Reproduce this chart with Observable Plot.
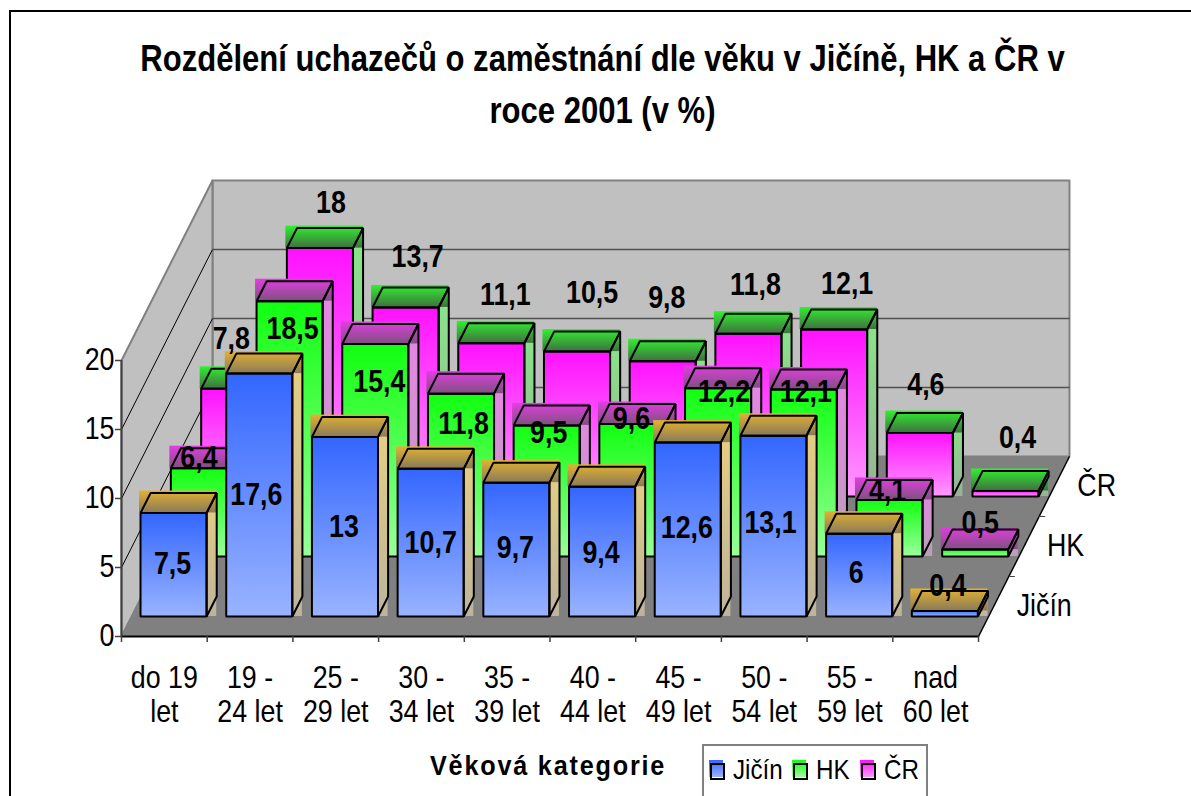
<!DOCTYPE html>
<html><head><meta charset="utf-8">
<script src="https://cdn.jsdelivr.net/npm/d3@7"></script>
<script src="https://cdn.jsdelivr.net/npm/@observablehq/plot@0.6"></script>
<style>
html,body{margin:0;padding:0;background:#fff;width:1191px;height:796px;overflow:hidden;font-family:"Liberation Sans",Arial,sans-serif;color:#000}
#frame{position:absolute;left:9px;top:10px;width:1182px;height:786px;border-left:2px solid #000;border-top:2px solid #000;box-sizing:border-box;pointer-events:none}
#title{position:relative;height:170px;width:1205px;box-sizing:border-box;padding-top:33px;margin:0;text-align:center;font-size:36px;font-weight:bold;line-height:52px;transform:scaleX(.862);transform-origin:602.5px 0;white-space:nowrap}
#chart{display:block;height:560px}
#chart svg{display:block;overflow:visible}
#bottom{position:relative;height:66px}
#xname{position:absolute;left:430px;top:21px;font-size:28px;font-weight:bold;letter-spacing:2px;line-height:30px;white-space:nowrap;transform:scaleX(.9);transform-origin:0 0}
#legend{position:absolute;left:702px;top:14px;width:226px;height:60px;box-sizing:border-box;border:2px solid #808080}
#legend span{position:absolute;top:9px;font-size:28px;line-height:30px;transform:scaleX(.865);transform-origin:0 0}
#legend i{position:absolute;top:14px;width:14px;height:17px}
#legend i::after{content:"";position:absolute;left:1px;top:3px;width:11px;height:13px;border:2px solid #000}
</style></head><body>
<div id="frame"></div>
<h1 id="title">Rozdělení uchazečů o zaměstnání dle věku v Jičíně, HK a ČR v<br>roce 2001 (v %)</h1>
<div id="chart"></div>
<div id="bottom">
  <div id="xname">Věková kategorie</div>
  <div id="legend"></div>
</div>
<script>
// --- data ---
const categories = ["do 19\nlet","19 -\n24 let","25 -\n29 let","30 -\n34 let","35 -\n39 let","40 -\n44 let","45 -\n49 let","50 -\n54 let","55 -\n59 let","nad\n60 let"];
const seriesNames = ["Jičín","HK","ČR"];
const jicin = [7.5,17.6,13,10.7,9.7,9.4,12.6,13.1,6,0.4];
const hk    = [6.4,18.5,15.4,11.8,9.5,9.6,12.2,12.1,4.1,0.5];
const cr    = [7.8,18,13.7,11.1,10.5,9.8,11.8,12.1,4.6,0.4];
const valueTicks = [0,5,10,15,20];

// manual placement of the data labels, as moved by hand in the original (px from each bar's anchor)
const shiftX = [[-1,-3,-1,0,-1,-1,-1,-3,-3,3],[-5,3,4,2.5,2,-1,6,2,-2,5],[-3,11,12,14,15,4,7,13,6,12]];
const shiftY = [[-1,0,0,0,-1,1,-1,-3,-2,-28],[-10,28,38.5,30,8,-4.5,4,3,-9,-27],[-50,-45,-50,-48,-59,-63,-49,-45,-47.5,-53]];

// --- oblique projection in data units ---
const pxPerCat = 85.7, pxPerVal = 13.8;
const kx = 30.33/pxPerCat, ky = 60/pxPerVal;
const PX = (c,z)=>c+z*kx, PY=(v,z)=>v+z*ky;
const DEPTH = 3;
const GL=.104, GR=.875, Z0=1/3, Z1=2/3;

const styles = [
 {id:"j",front:["#3366ff","#99b3ff"],side:["#e8cf80","#bdb49c"],top:["#e2b232","#8a7a58"]},
 {id:"h",front:["#11ff11","#99ff99"],side:["#e884e8","#b8a0b8"],top:["#e23ee2","#805080"]},
 {id:"c",front:["#ff11ff","#ff99ff"],side:["#88e888","#98b098"],top:["#30f030","#407040"]}
];
const values=[jicin,hk,cr];

function defs(){
  const d=d3.create("svg:defs");
  for(const s of styles) for(const k of ["front","side","top"]){
    const g=d.append("linearGradient").attr("id",s.id+k).attr("x1",0).attr("x2",0).attr("y1",0).attr("y2",1);
    g.append("stop").attr("offset",0).attr("stop-color",s[k][0]);
    g.append("stop").attr("offset",1).attr("stop-color",s[k][1]);
  }
  return d.node();
}

function bars(s){
  return values[s].map((v,i)=>({i,v,s,
    a:i+GL,b:i+GR,z0:s+Z0,z1:s+Z1}));
}
function poly(pts){return pts.map(([c,v,z],k)=>({x:PX(c,z),y:PY(v,z)}));}
const wall = (pts,opts)=>Plot.line(poly(pts),{x:"x",y:"y",curve:"linear-closed",...opts});

const marks=[defs];
marks.push(wall([[0,0,DEPTH],[10,0,DEPTH],[10,20,DEPTH],[0,20,DEPTH]],{fill:"#c0c0c0",stroke:"#808080",strokeWidth:2}));
marks.push(wall([[0,0,0],[0,20,0],[0,20,DEPTH],[0,0,DEPTH]],{fill:"#c0c0c0",stroke:"#808080",strokeWidth:2}));
marks.push(wall([[0,0,0],[10,0,0],[10,0,DEPTH],[0,0,DEPTH]],{fill:"#808080"}));
const gridV=valueTicks.slice(1,-1);
marks.push(Plot.link(gridV,{x1:()=>PX(0,0),y1:v=>PY(v,0),x2:()=>PX(0,DEPTH),y2:v=>PY(v,DEPTH),stroke:"#000",strokeWidth:1}));
marks.push(Plot.link(gridV,{x1:()=>PX(0,DEPTH),y1:v=>PY(v,DEPTH),x2:()=>PX(10,DEPTH),y2:v=>PY(v,DEPTH),stroke:"#505050",strokeWidth:1.5}));
// floor front-right edge and depth ticks
marks.push(Plot.link([0],{x1:()=>PX(10,0),y1:()=>PY(0,0),x2:()=>PX(10,DEPTH),y2:()=>PY(0,DEPTH),stroke:"#000",strokeWidth:1.5}));
marks.push(Plot.link([1,2],{x1:z=>PX(10,z),y1:z=>PY(0,z),x2:z=>PX(10,z)+.07,y2:z=>PY(0,z),stroke:"#404040",strokeWidth:1}));
marks.push(Plot.axisY(valueTicks,{anchor:"left",label:null,tickSize:6,tickPadding:1,fontSize:31,stroke:"#404040",strokeWidth:1.5}));
marks.push(Plot.ruleY([0],{stroke:"#000",strokeWidth:2}));
marks.push(Plot.ruleX([0],{y1:0,y2:20,stroke:"#404040",strokeWidth:2}));
marks.push(Plot.axisX(d3.range(0,11),{anchor:"bottom",label:null,tickSize:6,tickFormat:()=>"",stroke:"#404040",strokeWidth:1.5}));

for(let s=2;s>=0;s--){
  const d=bars(s), st=styles[s];
  // gradient boxes (bounding boxes of the faces, as the original rendered them)
  marks.push(Plot.rect(d,{x1:r=>PX(r.b,r.z0),x2:r=>PX(r.b,r.z1),y1:r=>PY(0,r.z0),y2:r=>PY(r.v,r.z1),fill:`url(#${st.id}side)`}));
  marks.push(Plot.rect(d,{x1:r=>PX(r.a,r.z0)-1/pxPerCat,x2:r=>PX(r.b,r.z1),y1:r=>PY(r.v,r.z0),y2:r=>PY(r.v,r.z1)+2/pxPerVal,fill:`url(#${st.id}top)`}));
  marks.push(Plot.rect(d,{x1:r=>PX(r.a,r.z0),x2:r=>PX(r.b,r.z0),y1:r=>PY(0,r.z0),y2:r=>PY(r.v,r.z0),fill:`url(#${st.id}front)`}));
  // outlines
  const outline = d.flatMap(r=>{
    const {a,b,z0,z1,v,i}=r;
    return [[[a,0,z0],[b,0,z0],[b,v,z0],[a,v,z0]],
            [[a,v,z0],[b,v,z0],[b,v,z1],[a,v,z1]],
            [[b,0,z0],[b,0,z1],[b,v,z1],[b,v,z0]]]
      .flatMap((f,k)=>f.map(p=>({x:PX(p[0],p[2]),y:PY(p[1],p[2]),id:i*3+k})));
  });
  marks.push(Plot.line(outline,{x:"x",y:"y",z:"id",curve:"linear-closed",stroke:"#000",strokeWidth:2,strokeLinejoin:"miter"}));
}
// data labels
const labels=values.flatMap((vs,s)=>vs.map((v,i)=>({
  t:String(v).replace(".",","),
  x:PX(i+.49,s+Z0)+shiftX[s][i]/pxPerCat,
  y:PY(s===0?v/2:v,s+Z0)-shiftY[s][i]/pxPerVal
})));
marks.push(Plot.text(labels,{x:"x",y:"y",text:"t",fontSize:31,fontWeight:"bold",fill:"#000",lineAnchor:"middle"}));
// category labels
marks.push(Plot.text(categories,{x:(d,i)=>i+.5,y:()=>0,text:d=>d,dy:58,fontSize:31,lineHeight:1.1,lineAnchor:"middle",fill:"#000"}));
// series depth labels
marks.push(Plot.text(seriesNames,{x:(d,i)=>PX(10,i+.5),y:(d,i)=>PY(0,i+.5),text:d=>d,dx:23,textAnchor:"start",fontSize:31,lineAnchor:"middle",fill:"#000"}));

const plot=Plot.plot({
  width:1191,height:560,marginLeft:121,marginRight:213,marginTop:190,marginBottom:94,
  style:{fontFamily:'"Liberation Sans",Arial,sans-serif',background:"transparent"},
  x:{type:"linear",domain:[0,10],axis:null},
  y:{type:"linear",domain:[0,20],axis:null},
  marks
});
// the original's lettering is narrow and tall: squeeze each text horizontally about its anchor
plot.querySelectorAll("text").forEach(el=>{
  el.setAttribute("transform",(el.getAttribute("transform")||"")+" scale(.865,1)");
});
document.getElementById("chart").append(plot);

// legend
const lg=document.getElementById("legend");
const lgX=[[5,29],[88,112],[156,180]];
seriesNames.forEach((n,i)=>{
  const sw=document.createElement("i");
  sw.style.left=lgX[i][0]+"px";
  sw.style.background=`linear-gradient(${styles[i].front[0]},${styles[i].front[1]})`;
  lg.append(sw);
  const t=document.createElement("span");
  t.style.left=lgX[i][1]+"px"; t.textContent=n; lg.append(t);
});
</script>
</body></html>
